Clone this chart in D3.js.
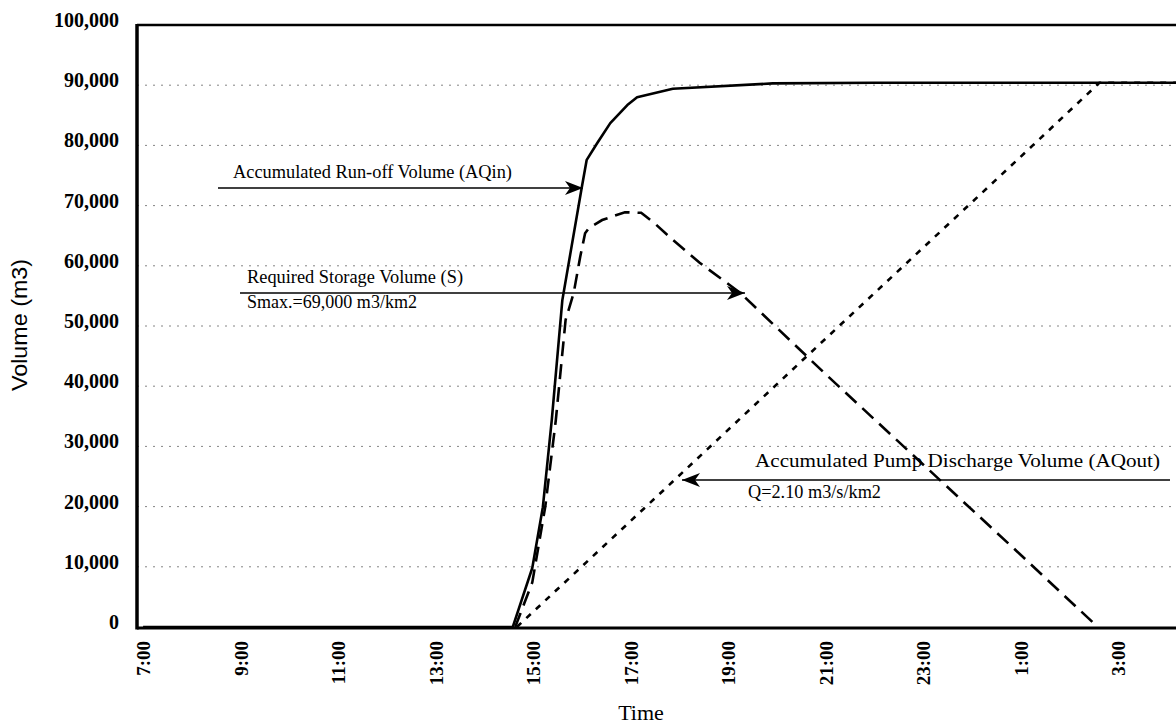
<!DOCTYPE html>
<html><head><meta charset="utf-8">
<script src="https://cdn.jsdelivr.net/npm/d3@7/dist/d3.min.js"></script>
<style>body{margin:0;background:#fff}svg{display:block}</style>
</head><body>
<svg id="chart" width="1176" height="728"></svg>
<script>
// ---------- data ----------
const yTickValues = [0,10000,20000,30000,40000,50000,60000,70000,80000,90000,100000];
const xTickLabels = ["7:00","9:00","11:00","13:00","15:00","17:00","19:00","21:00","23:00","1:00","3:00"];

// Accumulated Run-off Volume (AQin) - solid
const aqinTimes  = ["7:00","14:35","14:46","14:59","15:12","15:23","15:36","16:00","16:06","16:19","16:35","16:56","17:08","17:52","19:55","22:00","4:15"];
const aqinValues = [0,0,4500,9800,19900,34400,54300,73100,77600,80400,83700,86700,88000,89400,90300,90400,90400];

// Required Storage Volume (S) - dashed
const storTimes  = ["14:38","14:59","15:15","15:28","15:40","15:50","15:58","16:04","16:09","16:25","16:53","17:13","17:30","17:52","18:25","18:54","19:15","21:00","23:00","1:00","2:35"];
const storValues = [0,7400,20000,34400,51000,55500,61500,65400,66300,67600,68900,68800,67000,64300,60500,57600,55500,42000,27000,12000,0];

// Accumulated Pump Discharge Volume (AQout) - dotted
const aqoutTimes  = ["14:40","17:00","21:00","1:00","2:37","4:15"];
const aqoutValues = [0,17600,47900,78100,90400,90400];

// ---------- helpers ----------
function hours(s){const p=s.split(":").map(Number);let v=p[0]+p[1]/60;if(v<7)v+=24;return v;}
const zip=(t,v)=>t.map((d,i)=>({t:hours(d),v:v[i]}));

const svg=d3.select("#chart");
svg.append("rect").attr("width",1176).attr("height",728).attr("fill","#fff");

const x=d3.scaleLinear().domain([6.875,28.27]).range([137,1180]);
const y=d3.scaleLinear().domain([0,100000]).range([627,25]);

const serif="'Liberation Serif','Times New Roman',serif";

// gridlines
svg.append("g").selectAll("line").data(yTickValues.filter(d=>d>0&&d<100000)).join("line")
  .attr("x1",x.range()[0]).attr("x2",1176).attr("y1",d=>y(d)).attr("y2",d=>y(d))
  .attr("stroke","#666").attr("stroke-width",1).attr("stroke-dasharray","2 6").attr("opacity",0.8);

// y axis labels
const yAxis=d3.axisLeft(y).tickValues(yTickValues).tickFormat(d3.format(",")).tickSize(0).tickPadding(18);
const gy=svg.append("g").attr("transform","translate(137,0)").call(yAxis);
gy.select(".domain").remove();
gy.selectAll("text").attr("font-family",serif).attr("font-size",20).attr("font-weight","bold")
  .attr("fill","#000").attr("dy","0.32em").attr("y",-5);

// x axis labels
const xTickValues=xTickLabels.map(hours);
const xAxis=d3.axisBottom(x).tickValues(xTickValues).tickFormat((d,i)=>xTickLabels[i]).tickSize(0);
const gx=svg.append("g").attr("transform","translate(0,628)").call(xAxis);
gx.select(".domain").remove();
gx.selectAll("text").attr("font-family",serif).attr("font-size",19).attr("font-weight","bold").attr("fill","#000")
  .attr("transform","rotate(-90)").attr("text-anchor","end").attr("x",-13).attr("y",0).attr("dy","0.35em");

// frame
svg.append("line").attr("x1",137).attr("x2",1180).attr("y1",25).attr("y2",25).attr("stroke","#000").attr("stroke-width",2.5);
svg.append("line").attr("x1",137).attr("x2",1180).attr("y1",628).attr("y2",628).attr("stroke","#000").attr("stroke-width",3);
svg.append("line").attr("x1",137).attr("x2",137).attr("y1",24).attr("y2",629.5).attr("stroke","#000").attr("stroke-width",3.5);

// series
const line=d3.line().x(d=>x(d.t)).y(d=>y(d.v));
svg.append("path").datum(zip(aqoutTimes,aqoutValues)).attr("d",line).attr("fill","none")
  .attr("stroke","#000").attr("stroke-width",2.6).attr("stroke-dasharray","6 7");
svg.append("path").datum(zip(storTimes,storValues)).attr("d",line).attr("fill","none")
  .attr("stroke","#000").attr("stroke-width",2.6).attr("stroke-dasharray","15 8");
svg.append("path").datum(zip(aqinTimes,aqinValues)).attr("d",line).attr("fill","none")
  .attr("stroke","#000").attr("stroke-width",2.6).attr("stroke-linejoin","round");

// arrow marker
const defs=svg.append("defs");
defs.append("marker").attr("id","arr").attr("markerUnits","userSpaceOnUse")
  .attr("markerWidth",20).attr("markerHeight",16).attr("refX",18).attr("refY",7).attr("orient","auto")
  .append("path").attr("d","M0,0 L18,7 L0,14 L5,7 Z").attr("fill","#000");

function arrow(x1,x2,yy){
  svg.append("line").attr("x1",x1).attr("x2",x2).attr("y1",yy).attr("y2",yy)
    .attr("stroke","#000").attr("stroke-width",1.6).attr("marker-end","url(#arr)");
}
function label(txt,xx,yy,len,size){
  const t=svg.append("text").attr("x",xx).attr("y",yy).attr("font-family",serif)
    .attr("font-size",size||18).attr("fill","#000").text(txt);
  if(len) t.attr("textLength",len).attr("lengthAdjust","spacingAndGlyphs");
  return t;
}
// AQin annotation
arrow(218,583,188);
label("Accumulated Run-off Volume (AQin)",233,178,279);
// Storage annotation
arrow(240,745,293);
label("Required Storage Volume (S)",247,283,216);
label("Smax.=69,000 m3/km2",247,308,170);
// AQout annotation
arrow(1170,682,480);
label("Accumulated Pump Discharge Volume (AQout)",755,467,405);
label("Q=2.10 m3/s/km2",748,498,133);

// axis titles
svg.append("text").attr("transform","translate(27,325) rotate(-90)").attr("text-anchor","middle")
  .attr("font-family","'Liberation Sans',Arial,sans-serif").attr("font-size",22).attr("fill","#000")
  .attr("textLength",132).attr("lengthAdjust","spacingAndGlyphs").text("Volume (m3)");
svg.append("text").attr("x",641).attr("y",720).attr("text-anchor","middle")
  .attr("font-family",serif).attr("font-size",22).attr("fill","#000").text("Time");
</script>
</body></html>
